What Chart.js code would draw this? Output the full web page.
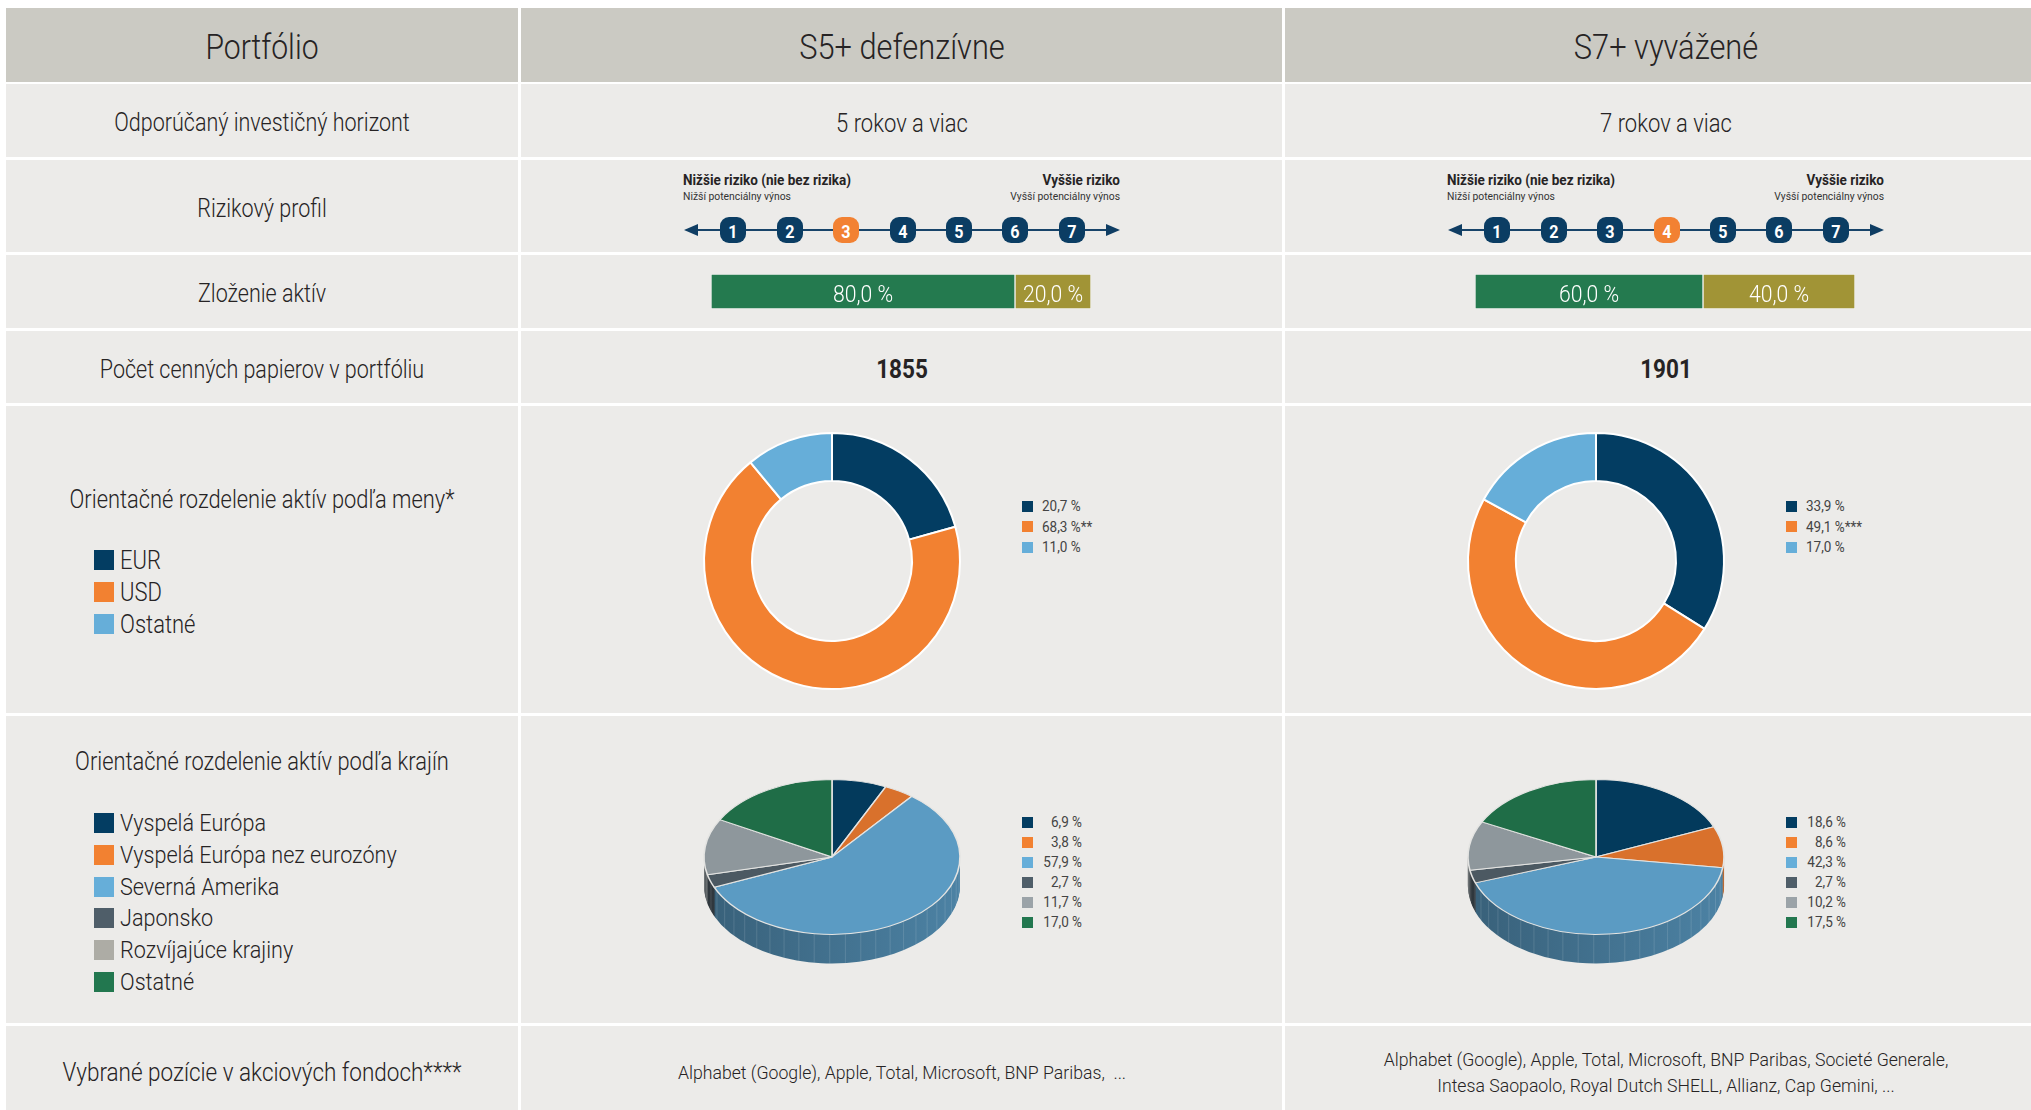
<!DOCTYPE html>
<html><head><meta charset="utf-8">
<script src="https://cdn.jsdelivr.net/npm/chart.js@4.4.1/dist/chart.umd.min.js"></script>
<style>
html,body{margin:0;padding:0;background:#fff;}
body{width:2031px;height:1110px;overflow:hidden;position:relative;font-family:Roboto,"Liberation Sans",sans-serif;color:#262324;}
.t{position:absolute;white-space:pre;line-height:1;}
.sq{position:absolute;}
canvas{position:absolute;}
</style></head><body>
<script>
// ---------------- DATA ----------------
const headerLabel = 'Portfólio';
const portfolioNames = ['S5+ defenzívne', 'S7+ vyvážené'];
const rowLabels = ['Odporúčaný investičný horizont', 'Rizikový profil', 'Zloženie aktív',
  'Počet cenných papierov v portfóliu', 'Orientačné rozdelenie aktív podľa meny*',
  'Orientačné rozdelenie aktív podľa krajín', 'Vybrané pozície v akciových fondoch****'];
const horizons = ['5 rokov a viac', '7 rokov a viac'];
const riskSteps = [1, 2, 3, 4, 5, 6, 7];
const riskLevels = [3, 4];
const riskLowText = ['Nižšie riziko (nie bez rizika)', 'Nižší potenciálny výnos'];
const riskHighText = ['Vyššie riziko', 'Vyšší potenciálny výnos'];
const allocS5 = [80.0, 20.0];
const allocS7 = [60.0, 40.0];
const securitiesCount = [1855, 1901];
const currencyLabels = ['EUR', 'USD', 'Ostatné'];
const currencyS5 = [20.7, 68.3, 11.0];
const currencyS7 = [33.9, 49.1, 17.0];
const currencyNotesS5 = ['', '**', ''];
const currencyNotesS7 = ['', '***', ''];
const regionLabels = ['Vyspelá Európa', 'Vyspelá Európa nez eurozóny', 'Severná Amerika',
  'Japonsko', 'Rozvíjajúce krajiny', 'Ostatné'];
const regionS5 = [6.9, 3.8, 57.9, 2.7, 11.7, 17.0];
const regionS7 = [18.6, 8.6, 42.3, 2.7, 10.2, 17.5];
const holdingsS5 = ['Alphabet (Google), Apple, Total, Microsoft, BNP Paribas,  ...'];
const holdingsS7 = ['Alphabet (Google), Apple, Total, Microsoft, BNP Paribas, Societé Generale,',
  'Intesa Saopaolo, Royal Dutch SHELL, Allianz, Cap Gemini, ...'];

// ---------------- STYLE ----------------
const NAVY = '#033d62', ORANGE = '#f28131', LBLUE = '#66aed9';
const currencyColors = [NAVY, ORANGE, LBLUE];
const regionLegendColors = [NAVY, ORANGE, LBLUE, '#4f5e69', '#adaca5', '#22774f'];
const regionSmallColors = [NAVY, ORANGE, LBLUE, '#4f5e69', '#9ba3a8', '#22774f'];
const pieTopColors = ['#033a5c', '#d9712c', '#5b9bc3', '#4c5962', '#8e979c', '#1f6d47'];
const barColors = ['#247a4f', '#a19436'];

const cols = [{x: 6, w: 512}, {x: 521, w: 761}, {x: 1285, w: 761}];
const rows = [[8, 82], [84, 157], [160, 252], [255, 328], [331, 403], [406, 713], [716, 1023], [1026, 1130]];

function txt(s, x, y, o = {}) {
  const d = document.createElement('div');
  d.className = 't';
  d.textContent = s;
  const size = o.size || 25, sx = o.sx || 0.87, align = o.align || 'center';
  d.style.fontSize = size + 'px';
  d.style.fontWeight = o.weight || 300;
  d.style.color = o.color || '#262324';
  d.style.left = x + 'px';
  d.style.top = y + 'px';
  if (align === 'center') { d.style.transformOrigin = '50% 50%'; d.style.transform = `translate(-50%,-50%) scaleX(${sx})`; }
  else if (align === 'left') { d.style.transformOrigin = '0 50%'; d.style.transform = `translate(0,-50%) scaleX(${sx})`; }
  else { d.style.transformOrigin = '100% 50%'; d.style.transform = `translate(-100%,-50%) scaleX(${sx})`; }
  document.body.appendChild(d);
  return d;
}
function box(x, y, w, h, bg, extra) {
  const d = document.createElement('div');
  d.className = 'sq';
  Object.assign(d.style, {left: x + 'px', top: y + 'px', width: w + 'px', height: h + 'px', background: bg}, extra || {});
  document.body.appendChild(d);
  return d;
}
function fmt(v) { return v.toFixed(1).replace('.', ',') + ' %'; }

// cells
rows.forEach((r, ri) => cols.forEach(c => {
  box(c.x, r[0], c.w, r[1] - r[0], ri === 0 ? '#cbcac3' : '#ecebe9');
}));

// header
txt(headerLabel, 262, 47, {size: 35, sx: 0.86});
portfolioNames.forEach((n, i) => txt(n, cols[i + 1].x + cols[i + 1].w / 2, 47, {size: 35, sx: 0.88}));

// row labels
const labelY = [122, 208, 293, 369, 499, 761, 1072];
const labelSx = [0.86, 0.86, 0.86, 0.86, 0.875, 0.875, 0.9];
rowLabels.forEach((l, i) => txt(l, 262, labelY[i], {size: 25, sx: labelSx[i]}));

// left legends
currencyLabels.forEach((l, i) => {
  const y = 560 + i * 32;
  box(94, y - 10, 20, 20, currencyColors[i]);
  txt(l, 120, y, {size: 25, align: 'left', sx: 0.88});
});
regionLabels.forEach((l, i) => {
  const y = 823 + i * 31.8;
  box(94, y - 10, 20, 20, regionLegendColors[i]);
  txt(l, 120, y, {size: 24, align: 'left', sx: 0.9});
});

Chart.defaults.font.family = 'Roboto';

// ---------- plugins ----------
const barLabels = {
  id: 'barLabels',
  afterDatasetsDraw(chart) {
    const ctx = chart.ctx;
    chart.data.datasets.forEach((ds, i) => {
      const el = chart.getDatasetMeta(i).data[0];
      const p = el.getProps(['x', 'y', 'base'], true);
      ctx.save();
      ctx.translate((p.x + p.base) / 2, p.y + 10);
      ctx.scale(0.92, 1);
      ctx.fillStyle = '#ffffff';
      ctx.font = '300 23px Roboto';
      ctx.textAlign = 'center';
      ctx.textBaseline = 'alphabetic';
      ctx.fillText(fmt(ds.data[0]), 0, 0);
      ctx.restore();
    });
  }
};

function shade(hex, f) {
  const n = parseInt(hex.slice(1), 16);
  const r = Math.round(((n >> 16) & 255) * f), g = Math.round(((n >> 8) & 255) * f), b = Math.round((n & 255) * f);
  return `rgb(${r},${g},${b})`;
}

const pie3d = {
  id: 'pie3d',
  beforeDatasetsDraw(chart, args, opts) {
    const ctx = chart.ctx;
    const arcs = chart.getDatasetMeta(0).data;
    const k = opts.tilt, depth = opts.depth;
    const p0 = arcs[0].getProps(['x', 'y', 'outerRadius'], true);
    const cx = p0.x, cy = p0.y, R = p0.outerRadius;
    const colors = chart.data.datasets[0].backgroundColor;
    const grads = colors.map(c => {
      const g = ctx.createLinearGradient(cx - R, 0, cx + R, 0);
      g.addColorStop(0, shade(c, 0.62));
      g.addColorStop(1, shade(c, 0.84));
      return g;
    });
    for (let d = depth; d >= 1; d--) {
      ctx.save();
      ctx.translate(0, d);
      ctx.translate(cx, cy); ctx.scale(1, k); ctx.translate(-cx, -cy);
      arcs.forEach((a, i) => {
        const p = a.getProps(['x', 'y', 'startAngle', 'endAngle', 'outerRadius'], true);
        ctx.beginPath();
        ctx.moveTo(p.x, p.y);
        ctx.arc(p.x, p.y, p.outerRadius, p.startAngle, p.endAngle);
        ctx.closePath();
        ctx.fillStyle = grads[i];
        ctx.fill();
      });
      ctx.restore();
    }
    // faint facet lines on the visible side
    ctx.save();
    ctx.strokeStyle = 'rgba(255,255,255,0.13)';
    ctx.lineWidth = 1;
    for (let a = 7; a < 180; a += 7) {
      const ang = a * Math.PI / 180;
      const x = cx + R * Math.cos(ang), y = cy + R * k * Math.sin(ang);
      ctx.beginPath(); ctx.moveTo(x, y); ctx.lineTo(x, y + depth); ctx.stroke();
    }
    ctx.restore();
    ctx.save();
    ctx.translate(cx, cy); ctx.scale(1, k); ctx.translate(-cx, -cy);
  },
  afterDatasetsDraw(chart) { chart.ctx.restore(); }
};

function mkCanvas(left, top, w, h) {
  const cv = document.createElement('canvas');
  cv.width = w; cv.height = h;
  cv.style.width = w + 'px'; cv.style.height = h + 'px';
  cv.style.left = left + 'px'; cv.style.top = top + 'px';
  document.body.appendChild(cv);
  return cv;
}

const baseOpts = {responsive: false, animation: false, devicePixelRatio: 1, layout: {padding: 0},
  plugins: {legend: {display: false}, tooltip: {enabled: false}}};

const columnsData = [
  {alloc: allocS5, count: securitiesCount[0], cur: currencyS5, curNotes: currencyNotesS5, reg: regionS5, hold: holdingsS5, risk: riskLevels[0], horizon: horizons[0]},
  {alloc: allocS7, count: securitiesCount[1], cur: currencyS7, curNotes: currencyNotesS7, reg: regionS7, hold: holdingsS7, risk: riskLevels[1], horizon: horizons[1]}
];

columnsData.forEach((cd, ci) => {
  const c = cols[ci + 1];
  const x0 = c.x, mid = c.x + c.w / 2;

  txt(cd.horizon, mid, 123, {size: 25, sx: 0.88});

  // risk scale
  txt(riskLowText[0], x0 + 162, 179.5, {size: 15, weight: 700, align: 'left', sx: 0.9});
  txt(riskLowText[1], x0 + 162, 196.5, {size: 11.5, weight: 400, align: 'left', sx: 0.9, color: '#333'});
  txt(riskHighText[0], x0 + 599, 179.5, {size: 15, weight: 700, align: 'right', sx: 0.9});
  txt(riskHighText[1], x0 + 599, 196.5, {size: 11.5, weight: 400, align: 'right', sx: 0.9, color: '#333'});
  box(x0 + 170, 229, 420, 2, '#174369');
  box(x0 + 163, 224, 0, 0, 'transparent', {borderTop: '6px solid transparent', borderBottom: '6px solid transparent', borderRight: '14px solid #0f3d63'});
  box(x0 + 585, 224, 0, 0, 'transparent', {borderTop: '6px solid transparent', borderBottom: '6px solid transparent', borderLeft: '14px solid #0f3d63'});
  riskSteps.forEach((s, i) => {
    const bx = x0 + 212.3 + i * 56.4;
    box(bx - 13, 217, 26, 26, s === cd.risk ? '#f28132' : '#0b3d63', {borderRadius: '9px'});
    txt(String(s), bx, 230.5, {size: 19, weight: 700, color: '#fff', sx: 0.85});
  });

  // asset allocation bar
  new Chart(mkCanvas(x0 + 190, 274, 380, 35), {
    type: 'bar',
    data: {labels: [''], datasets: cd.alloc.map((v, i) => ({data: [v], backgroundColor: barColors[i], borderColor: '#f4f4f2', borderWidth: 1, borderSkipped: false, barPercentage: 1, categoryPercentage: 1}))},
    options: Object.assign({}, baseOpts, {indexAxis: 'y', scales: {x: {stacked: true, min: 0, max: 100, display: false}, y: {stacked: true, display: false}}}),
    plugins: [barLabels]
  });

  // securities count
  txt(String(cd.count), mid, 369, {size: 25, weight: 700, sx: 0.9});

  // currency doughnut
  new Chart(mkCanvas(x0 + 311 - 140, 561 - 140, 280, 280), {
    type: 'doughnut',
    data: {labels: currencyLabels, datasets: [{data: cd.cur, backgroundColor: currencyColors, borderColor: '#ffffff', borderWidth: 2}]},
    options: Object.assign({}, baseOpts, {radius: 128, cutout: '62.5%'})
  });
  cd.cur.forEach((v, i) => {
    const y = 506 + i * 20.5;
    box(x0 + 501, y - 5.5, 11, 11, currencyColors[i]);
    txt(fmt(v) + cd.curNotes[i], x0 + 521, y, {size: 15, weight: 400, align: 'left', sx: 0.9, color: '#444'});
  });

  // region 3D pie
  new Chart(mkCanvas(x0 + 311 - 140, 856.5 - 140, 280, 280), {
    type: 'pie',
    data: {labels: regionLabels, datasets: [{data: cd.reg, backgroundColor: pieTopColors, borderColor: '#e4e4e2', borderWidth: 1.6}]},
    options: Object.assign({}, baseOpts, {radius: 128, plugins: {legend: {display: false}, tooltip: {enabled: false}, pie3d: {tilt: 0.605, depth: 29}}}),
    plugins: [pie3d]
  });
  cd.reg.forEach((v, i) => {
    const y = 822 + i * 20;
    box(x0 + 501, y - 5.5, 11, 11, regionSmallColors[i]);
    txt(fmt(v), x0 + 561, y, {size: 15, weight: 400, align: 'right', sx: 0.9, color: '#444'});
  });

  // holdings
  if (cd.hold.length === 1) txt(cd.hold[0], mid, 1072, {size: 19, sx: 0.93});
  else cd.hold.forEach((h, i) => txt(h, mid, 1059 + i * 26, {size: 19, sx: 0.93}));
});
</script>
</body></html>
